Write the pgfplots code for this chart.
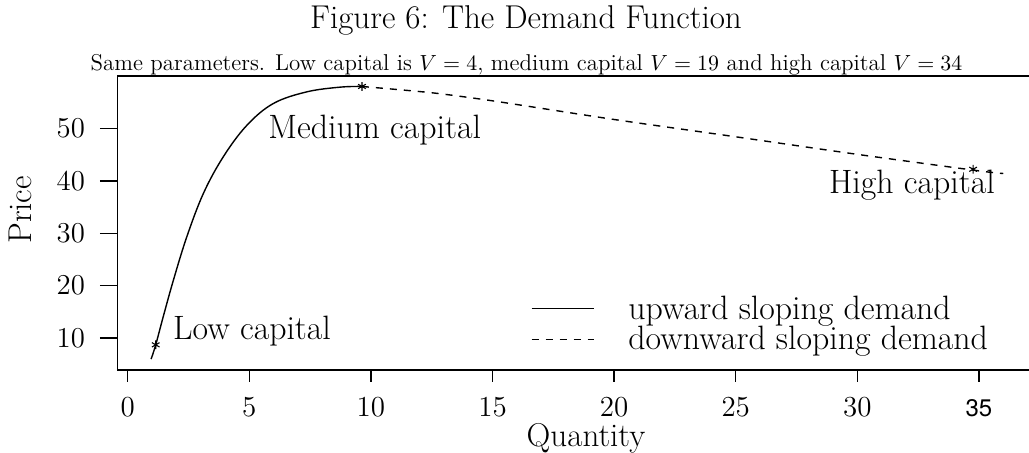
\documentclass[border=0pt]{standalone}
\usepackage{fontspec}
\newfontfamily\heros{TeX Gyre Heros}
\usepackage{pgfplots}
\pgfplotsset{compat=1.18}
\begin{document}
\begin{tikzpicture}[x=1pt,y=1pt]
\begin{axis}[
  at={(0,0)}, anchor=south west,
  scale only axis, width=460pt, height=147pt,
  xmin=-0.43, xmax=37.4, ymin=3.92, ymax=60.0,
  axis line style={draw=none},
  xtick={0,5,10,15,20,25,30,35},
  xticklabels={0,5,10,15,20,25,30,{\heros\fontsize{12}{14}\selectfont 35}},
  ytick={10,20,30,40,50},
  xtick pos=left, ytick pos=left,
  tick align=outside, major tick length=6pt,
  tick style={black, line width=0.7pt},
  ytick style={/pgfplots/major tick length=8.7pt},
  ticklabel style={font=\fontsize{14.5}{17}\selectfont},
  xticklabel style={anchor=base, inner sep=0pt, yshift=-17.5pt},
  yticklabel style={anchor=east, inner sep=0pt, xshift=-10pt},
  legend style={draw=none, fill=none, inner sep=0pt, outer sep=0pt,
    at={(0.4497,0.255)}, anchor=north west,
    font=\fontsize{16.9}{19}\selectfont,
    nodes={inner sep=0pt, text height=12pt, text depth=3.3pt},
    row sep=0pt,
    /tikz/every odd column/.append style={column sep=17pt}},
  legend cell align=left,
  legend image code/.code={\draw[#1] (0pt,0.8pt) -- (31pt,0.8pt);},
]
\addplot[black, line width=0.7pt, smooth, tension=0.6] coordinates {
(0.96,6.0) (1.15,8.72) (1.46,14.11) (1.88,21.1) (2.43,29.35) (3.11,37.6)
(3.93,44.6) (4.90,50.6) (5.99,54.76) (7.36,56.97) (8.73,57.87) (9.63,58.0)
};
\addlegendentry{upward sloping demand}
\addplot[black, line width=0.7pt, dash pattern=on 3.5pt off 3.5pt, smooth, tension=0.4] coordinates {
(9.63,58.0) (12.5,56.8) (15,55.26) (20,51.7) (25,48.4) (30,45.05) (35,41.9) (36.0,41.4)
};
\addlegendentry{downward sloping demand}
\addplot[black, only marks, mark=asterisk, mark size=2.2pt, mark options={line width=0.55pt}, forget plot] coordinates {
(1.15,8.72) (9.63,58.0) (34.76,42.2)
};
\node[anchor=base west, inner sep=0pt, font=\fontsize{16.9}{19}\selectfont] at (axis cs:5.77,48.1) {Medium capital};
\node[anchor=base west, inner sep=0pt, font=\fontsize{16.9}{19}\selectfont] at (axis cs:1.85,9.68) {Low capital};
\node[anchor=base west, inner sep=0pt, font=\fontsize{16.9}{19}\selectfont] at (axis cs:28.82,37.49) {High capital};
\end{axis}
\draw[line width=0.7pt] (455.85,147) -- (0,147) -- (0,0) -- (455.85,0);
\node[anchor=base, inner sep=0pt, font=\fontsize{16.5}{19}\selectfont] at (204.35,170.5) {Figure 6: The Demand Function};
\node[anchor=base, inner sep=0pt, font=\fontsize{11.45}{13}\selectfont] at (204.6,149.6) {Same parameters. Low capital is $V=4$, medium capital $V=19$ and high capital $V=34$};
\node[rotate=90, inner sep=0pt, font=\fontsize{16.5}{19}\selectfont] at (-48.4,80) {Price};
\node[anchor=base, inner sep=0pt, font=\fontsize{16.5}{19}\selectfont] at (234.35,-38.5) {Quantity};
\pgfresetboundingbox
\useasboundingbox (-58.65,-41.5) rectangle (455.85,185);
\end{tikzpicture}
\end{document}
